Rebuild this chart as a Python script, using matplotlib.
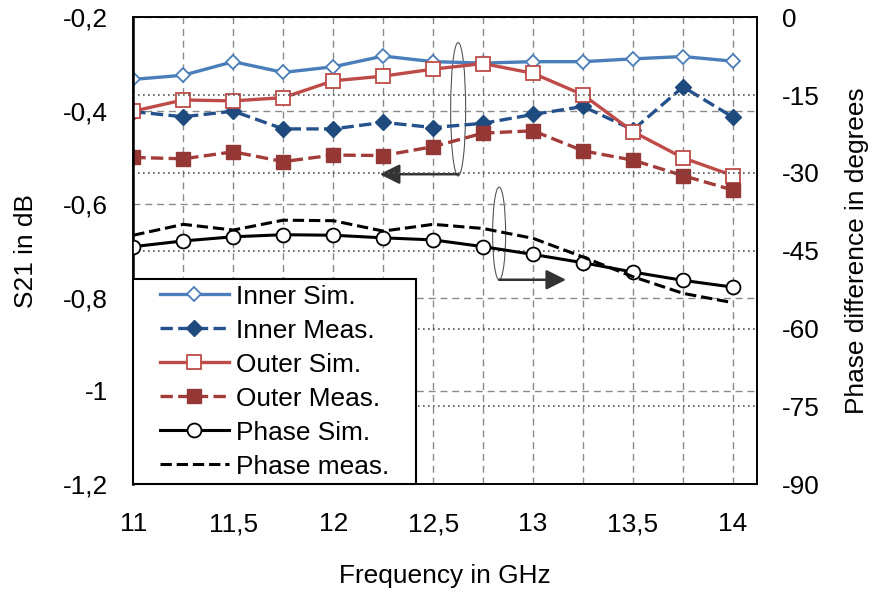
import matplotlib
matplotlib.use("Agg")
import matplotlib.pyplot as plt
from matplotlib.patches import Ellipse
from matplotlib.legend_handler import HandlerLine2D
from matplotlib.ticker import FuncFormatter, MultipleLocator

plt.rcParams['font.family'] = ['Liberation Sans', 'DejaVu Sans']
plt.rcParams['font.size'] = 18.9
plt.rcParams['axes.unicode_minus'] = False

freq = [11, 11.25, 11.5, 11.75, 12, 12.25, 12.5, 12.75, 13, 13.25, 13.5, 13.75, 14]
inner_sim = [-0.333, -0.324, -0.295, -0.318, -0.306, -0.283, -0.295, -0.298,
             -0.295, -0.295, -0.289, -0.284, -0.294]
inner_meas = [-0.402, -0.413, -0.401, -0.439, -0.439, -0.425, -0.436, -0.427,
              -0.408, -0.391, -0.441, -0.349, -0.414]
outer_sim = [-0.401, -0.377, -0.379, -0.372, -0.336, -0.326, -0.311, -0.299,
             -0.320, -0.366, -0.445, -0.501, -0.539]
outer_meas = [-0.500, -0.503, -0.488, -0.509, -0.495, -0.496, -0.477, -0.448,
              -0.443, -0.486, -0.506, -0.539, -0.570]
phase_sim = [-44.2, -43.1, -42.3, -41.9, -42.0, -42.5, -42.9, -44.2,
             -45.7, -47.3, -49.1, -50.7, -52.0]
phase_meas = [-42.0, -39.9, -41.0, -39.1, -39.2, -41.2, -39.9, -40.7,
              -42.6, -46.2, -50.0, -53.2, -55.0]

fig = plt.figure(figsize=(8.73, 5.95), dpi=100)
ax = fig.add_axes([133.3 / 873, 1 - 484.3 / 595, (757 - 133.3) / 873, (484.3 - 17.3) / 595])
ax2 = ax.twinx()

comma = FuncFormatter(lambda v, p: ('%g' % round(v, 2)).replace('.', ','))

# left axis: S21
ax.set_xlim(11, 14.12)
ax.set_ylim(-1.2, -0.2)
ax.xaxis.set_major_locator(MultipleLocator(0.5))
ax.xaxis.set_minor_locator(MultipleLocator(0.25))
ax.yaxis.set_major_locator(MultipleLocator(0.2))
ax.xaxis.set_major_formatter(comma)
ax.yaxis.set_major_formatter(comma)
ax.tick_params(which='both', length=0)
ax.tick_params(axis='y', pad=18)
ax.tick_params(axis='x', pad=20)
ax.grid(True, which='both', axis='x', color='#8a8a8a', linestyle=(0, (5, 3.5)), linewidth=1.0)
ax.grid(True, which='major', axis='y', color='#8a8a8a', linestyle=(0, (5, 3.5)), linewidth=1.0)

ax.plot(freq, inner_sim, color='#4a7ebb', lw=2.4, marker='D', ms=6.8,
        mfc='white', mec='#4a7ebb', mew=1.3, label='Inner Sim.')
ax.plot(freq, inner_meas, color='#24518c', lw=2.4, ls='--', marker='D', ms=8.2,
        mfc='#1f4a7d', mec='#1f4a7d', label='Inner Meas.')
ax.plot(freq, outer_sim, color='#be4b48', lw=2.4, marker='s', ms=10,
        mfc='white', mec='#be4b48', mew=1.3, label='Outer Sim.')
ax.plot(freq, outer_meas, color='#a33b38', lw=2.4, ls='--', marker='s', ms=10.5,
        mfc='#953735', mec='#953735', label='Outer Meas.')

# right axis: phase
ax2.set_ylim(-90, 0)
ax2.yaxis.set_major_locator(MultipleLocator(15))
ax2.tick_params(length=0, pad=18)
ax2.grid(True, axis='y', color='#555555', linestyle=(0, (1, 2)), linewidth=1.2)
ax2.plot(freq, phase_sim, color='black', lw=2.2, marker='o', ms=10,
         mfc='white', mec='black', mew=1.3, label='Phase Sim.')
ax2.plot(freq, phase_meas, color='black', lw=2.2, ls='--', label='Phase meas.')

for a in (ax, ax2):
    for s in a.spines.values():
        s.set_color('black')
        s.set_linewidth(1.2)
ax.spines['left'].set_linewidth(1.8)

# annotation ellipses and arrows
ax.add_patch(Ellipse((12.625, -0.397), 0.075, 0.2855, fill=False, ec='#555555', lw=0.8))
ax.add_patch(Ellipse((12.83, -0.663), 0.065, 0.1985, fill=False, ec='#555555', lw=0.8))
arrow = dict(arrowstyle='-|>,head_length=0.6,head_width=0.3', color='#333333',
             lw=1.8, mutation_scale=20, shrinkA=0, shrinkB=0)
ax.annotate('', xy=(12.233, -0.536), xytext=(12.625, -0.536), arrowprops=arrow)
ax.annotate('', xy=(13.165, -0.762), xytext=(12.83, -0.762), arrowprops=arrow)

ax.set_xlabel('Frequency in GHz')
ax.set_ylabel('S21 in dB')
ax2.set_ylabel('Phase difference in degrees')
ax.xaxis.set_label_coords(0.5, -0.17)
ax.yaxis.set_label_coords(-0.153, 0.5)
ax2.yaxis.set_label_coords(1.141, 0.5)

h1, l1 = ax.get_legend_handles_labels()
h2, l2 = ax2.get_legend_handles_labels()
leg = ax2.legend(h1 + h2, l1 + l2, loc='lower left',
                 bbox_to_anchor=(0, 0, 0.4535, 0.437), mode='expand',
                 borderaxespad=0, frameon=True, fancybox=False, framealpha=1,
                 edgecolor='black', handlelength=3.44, handletextpad=0.27,
                 labelspacing=0.38, borderpad=0.22,
                 handler_map={h: HandlerLine2D(xpad=0.78) for h in h1 + h2})
leg.get_frame().set_linewidth(1.5)
leg.set_zorder(10)

fig.savefig('out.png', dpi=100)
